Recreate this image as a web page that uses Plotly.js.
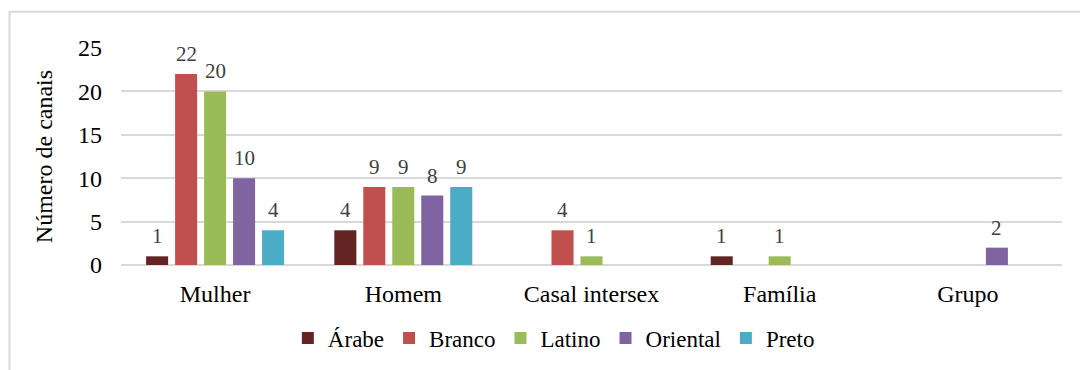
<!DOCTYPE html>
<html>
<head>
<meta charset="utf-8">
<script src="https://cdn.plot.ly/plotly-3.0.1.min.js"></script>
<style>
  html, body { margin: 0; padding: 0; background: #fff; }
  #chart { width: 1080px; height: 370px; }
</style>
</head>
<body>
<div id="chart"></div>
<script>
// Canais por tipo de apresentação e etnia
const categories = ['Mulher', 'Homem', 'Casal intersex', 'Família', 'Grupo'];
const seriesNames = ['Árabe', 'Branco', 'Latino', 'Oriental', 'Preto'];
const arabe    = [1, 4, 0, 1, 0];
const branco   = [22, 9, 4, 0, 0];
const latino   = [20, 9, 1, 1, 0];
const oriental = [10, 8, 0, 0, 2];
const preto    = [4, 9, 0, 0, 0];
const yTicks = [0, 5, 10, 15, 20, 25];

const seriesValues = [arabe, branco, latino, oriental, preto];
const colors = ['#632523', '#C0504D', '#9BBB59', '#8064A2', '#4BACC6'];
const serif = '"Liberation Serif", "DejaVu Serif", serif';

const W = 1080, H = 370;
const margin = { l: 121, r: 18, t: 48, b: 104 };
const bargap = 0.23;
const bargroupgap = 0.24;

const traces = seriesNames.map((name, i) => ({
  type: 'bar',
  name: name,
  x: categories,
  y: seriesValues[i],
  marker: { color: colors[i] },
  hoverinfo: 'x+y+name'
}));

// Value labels above each non-zero bar, offset sideways to sit over its bar in the group
const plotW = W - margin.l - margin.r;
const slot = (plotW / categories.length) * (1 - bargap) / seriesNames.length;
const annotations = [];
seriesValues.forEach((vals, i) => {
  vals.forEach((v, j) => {
    if (!v) return;
    annotations.push({
      xref: 'x', yref: 'y',
      x: categories[j], y: v,
      text: String(v),
      showarrow: false,
      xanchor: 'center', yanchor: 'bottom',
      xshift: (i - (seriesNames.length - 1) / 2) * slot,
      yshift: 6,
      font: { family: serif, size: 21, color: '#404040' }
    });
  });
});

const layout = {
  width: W,
  height: H,
  margin: margin,
  paper_bgcolor: '#ffffff',
  plot_bgcolor: '#ffffff',
  barmode: 'group',
  bargap: bargap,
  bargroupgap: bargroupgap,
  font: { family: serif, size: 24, color: '#000000' },
  showlegend: true,
  legend: {
    orientation: 'h',
    x: 0.46, xanchor: 'center',
    y: -0.33, yanchor: 'middle',
    font: { family: serif, size: 23, color: '#000000' },
    itemwidth: 30,
    traceorder: 'normal'
  },
  xaxis: {
    type: 'category',
    showgrid: false,
    showline: false,
    zeroline: false,
    ticks: '',
    ticklabelstandoff: 12,
    tickfont: { family: serif, size: 24, color: '#000000' }
  },
  yaxis: {
    range: [0, 25],
    tickvals: yTicks,
    ticktext: yTicks.map(String),
    showgrid: true,
    gridcolor: '#d9d9d9',
    gridwidth: 2,
    zeroline: true,
    zerolinecolor: '#d9d9d9',
    zerolinewidth: 2,
    showline: false,
    ticks: '',
    ticklabelstandoff: 18,
    tickfont: { family: serif, size: 24, color: '#000000' },
    title: {
      text: 'Número de canais',
      standoff: 18,
      font: { family: serif, size: 24, color: '#000000' }
    }
  },
  annotations: annotations,
  shapes: [{
    type: 'rect',
    xref: 'paper', yref: 'paper',
    x0: (9.5 - 121) / plotW, x1: (1090 - 121) / plotW,
    y0: (266 - 380) / 218, y1: (266 - 11.5) / 218,
    line: { color: '#d9d9d9', width: 2 },
    fillcolor: 'rgba(0,0,0,0)',
    layer: 'below'
  }]
};

Plotly.newPlot('chart', traces, layout, { displayModeBar: false, staticPlot: true });
</script>
</body>
</html>
